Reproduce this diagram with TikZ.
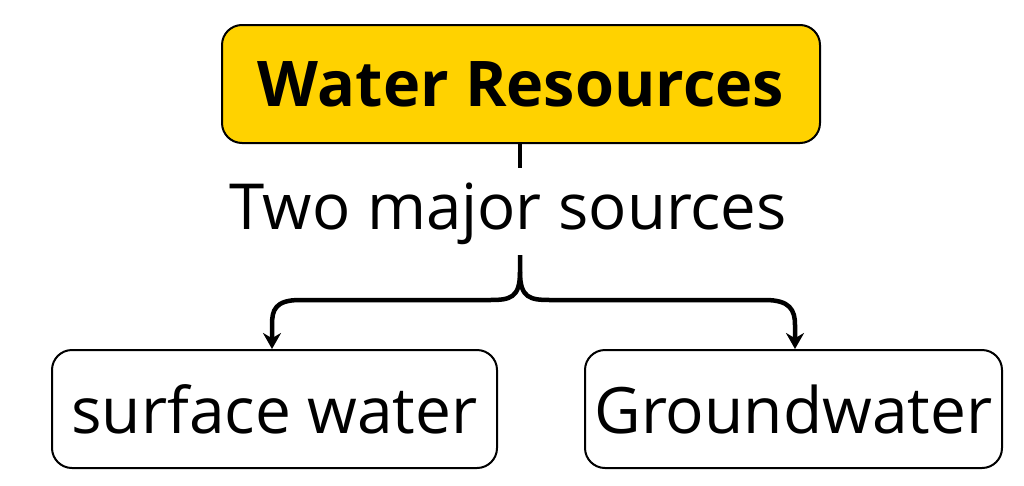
\documentclass[tikz,border=0pt]{standalone}
\usepackage{fontspec}
\setmainfont{Open Sans}
\usetikzlibrary{arrows.meta}
\definecolor{gold}{HTML}{FFD200}
\begin{document}
\begin{tikzpicture}[x=1pt,y=-1pt,
  box/.style={draw=black,line width=2pt,rounded corners=20pt,inner sep=0pt},
  conn/.style={line width=4.5pt,-{Stealth[length=16pt,width=18pt]}}]
\useasboundingbox (0,0) rectangle (1024,485);
\node[box,fill=gold,minimum width=598pt,minimum height=118pt] (top) at (521,84) {\fontsize{63}{70}\selectfont\bfseries Water Resources};
\node[inner sep=0pt] (lab) at (508,214) {\fontsize{63.5}{70}\selectfont Two major sources};
\node[box,fill=white,minimum width=445pt,minimum height=118pt] (sw) at (274.5,409) {\fontsize{64}{70}\selectfont surface water};
\node[box,fill=white,minimum width=417pt,minimum height=118pt] (gw) at (793.5,409) {\fontsize{64}{70}\selectfont Groundwater};
\coordinate (a) at (520,168);
\draw[line width=4.5pt] (top.south -| a) -- (a);
\coordinate (b) at (520,255);
\draw[conn] (b) -- (520,272) .. controls (520,298) and (510,300) .. (490,300) -- (300,300) .. controls (275,300) and (272,310) .. (272,325) -- (sw.north -| 272,0);
\draw[conn] (520,272) .. controls (520,298) and (530,300) .. (550,300) -- (765,300) .. controls (790,300) and (795,310) .. (795,325) -- (gw.north -| 795,0);
\end{tikzpicture}
\end{document}
